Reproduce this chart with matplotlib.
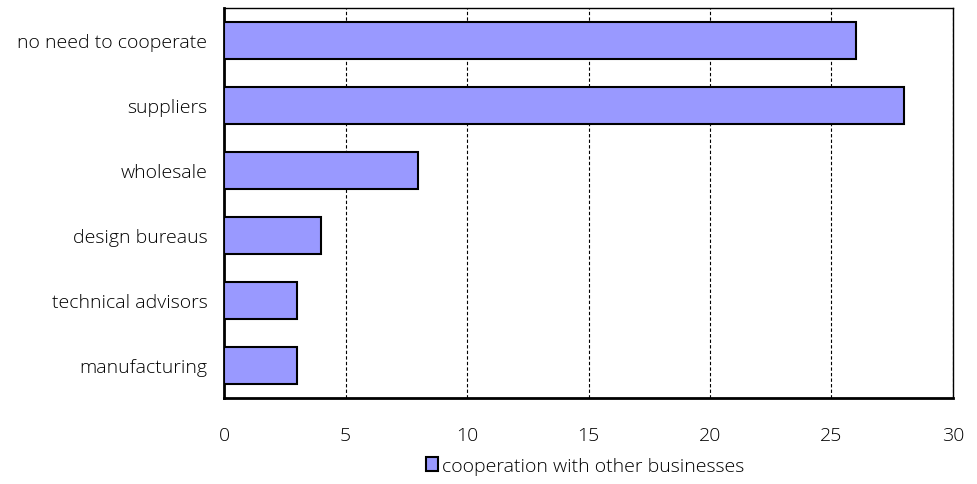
import matplotlib
matplotlib.use("Agg")
import matplotlib.pyplot as plt
from matplotlib.patches import Patch

categories = ["no need to cooperate", "suppliers", "wholesale", "design bureaus",
              "technical advisors", "manufacturing"]
values = [26, 28, 8, 4, 3, 3]
series_name = "cooperation with other businesses"
x_ticks = [0, 5, 10, 15, 20, 25, 30]

plt.rcParams['font.family'] = ['Open Sans', 'DejaVu Sans']
plt.rcParams['font.weight'] = 'light'

fig = plt.figure(figsize=(9.77, 4.85), dpi=100)
ax = fig.add_axes([224 / 977, 1 - 399 / 485, (953 - 224) / 977, (399 - 9) / 485])

bar_color = "#9999ff"
ypos = list(range(len(categories)))
ax.barh(ypos, values, height=0.58, color=bar_color, edgecolor="black", linewidth=1.5, zorder=3)
ax.set_ylim(len(categories) - 0.5, -0.5)
ax.set_yticks(ypos)
ax.set_yticklabels(categories, fontsize=14)

ax.set_xlim(0, 30)
ax.set_xticks(x_ticks)
ax.set_xticklabels([str(t) for t in x_ticks], fontsize=14)
ax.tick_params(axis="both", length=0)
ax.tick_params(axis="x", pad=20)
ax.tick_params(axis="y", pad=12)

ax.grid(axis="x", color="black", linestyle=(0, (3, 2)), linewidth=0.8, zorder=0)
for side in ["top", "right"]:
    ax.spines[side].set_linewidth(1.0)
for side in ["left", "bottom"]:
    ax.spines[side].set_linewidth(2.0)

handle = Patch(facecolor=bar_color, edgecolor="black", linewidth=1.5)
fig.legend([handle], [series_name], loc="center", bbox_to_anchor=(585 / 977, 1 - 467 / 485),
           frameon=False, fontsize=14, handlelength=0.6, handleheight=0.7, handletextpad=0.2)

fig.savefig("out.png", dpi=100)
